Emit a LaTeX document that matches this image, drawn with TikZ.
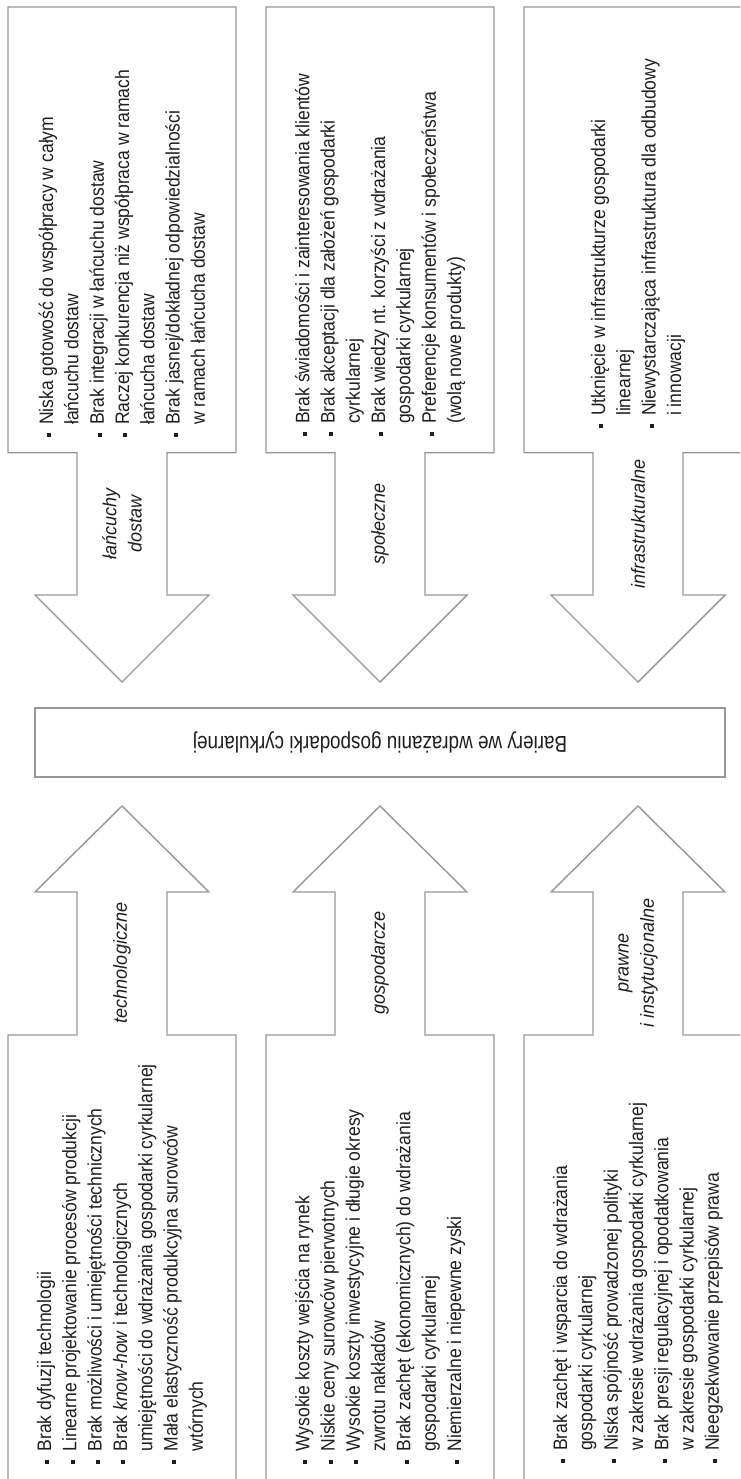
\documentclass[tikz,border=0pt]{standalone}
\usepackage{fontspec}
\setmainfont{Liberation Sans}[FakeStretch=0.9]
\newfontfamily\ctrfont{Liberation Sans}[FakeStretch=0.82]
\newfontfamily\lblfont{Liberation Sans}[FakeStretch=0.95]
\definecolor{lg}{RGB}{150,150,150}
\definecolor{txt}{RGB}{30,30,30}
\newcommand{\bl}{\makebox[12pt][l]{\rule[1.8pt]{4pt}{4pt}}}
\newcommand{\ind}{\hspace*{12pt}}
\newcommand{\myDownBox}[1]{%
  \draw[shp] (#1-114,7) -- (#1+114,7) -- (#1+114,452.7) -- (#1+45,452.7) -- (#1+45,595)
    -- (#1+87,595) -- (#1,682) -- (#1-87,595) -- (#1-45,595) -- (#1-45,452.7)
    -- (#1-114,452.7) -- cycle;}
\newcommand{\myUpBox}[1]{%
  \draw[shp] (#1-114,1490) -- (#1-114,1035) -- (#1-45,1035) -- (#1-45,892) -- (#1-87,892)
    -- (#1,806) -- (#1+87,892) -- (#1+45,892) -- (#1+45,1035) -- (#1+114,1035)
    -- (#1+114,1490);}
\begin{document}
\begin{tikzpicture}[x=1pt,y=-1pt,line join=miter,
  shp/.style={draw=lg,line width=1.4pt},
  body/.style={rotate=90,anchor=west,align=left,inner sep=0pt,text=txt,
    font=\fontsize{19.5}{25.3}\selectfont},
  lbl/.style={rotate=90,align=center,inner sep=0pt,text=txt,
    font=\lblfont\itshape\fontsize{19}{25.3}\selectfont}]
\useasboundingbox (0,0) rectangle (740,1479);
\clip (0,0) rectangle (740,1479);

% shapes
\myDownBox{122}
\myDownBox{380}
\myDownBox{638}
\myUpBox{122}
\myUpBox{380}
\myUpBox{638}

% centre box
\node[draw=lg,line width=1.4pt,minimum width=690pt,minimum height=69pt,inner sep=0pt,
  rotate=180,text=txt,font=\ctrfont\fontsize{23}{28}\selectfont] (center) at (380,742.5)
  {Bariery we wdrażaniu gospodarki cyrkularnej};

% arrow labels
\node[lbl] (l1) at (122,524) {łańcuchy\\dostaw};
\node[lbl] (l2) at (380,524) {społeczne};
\node[lbl] (l3) at (638,524) {infrastrukturalne};
\node[lbl] (l4) at (122,963) {technologiczne};
\node[lbl] (l5) at (380,963) {gospodarcze};
\node[lbl] (l6) at (638,963) {prawne\\i instytucjonalne};

% top boxes text
\node[body] (t1) at (122,437) {\bl Niska gotowość do współpracy w całym\\
\ind łańcuchu dostaw\\
\bl Brak integracji w łańcuchu dostaw\\
\bl Raczej konkurencja niż współpraca w ramach\\
\ind łańcucha dostaw\\
\bl Brak jasnej/dokładnej odpowiedzialności\\
\ind w ramach łańcucha dostaw};

\node[body] (t2) at (380,436) {\bl Brak świadomości i zainteresowania klientów\\
\bl Brak akceptacji dla założeń gospodarki\\
\ind cyrkularnej\\
\bl Brak wiedzy nt. korzyści z wdrażania\\
\ind gospodarki cyrkularnej\\
\bl Preferencje konsumentów i społeczeństwa\\
\ind (wolą nowe produkty)};

\node[body] (t3) at (638,428) {\bl Utknięcie w infrastrukturze gospodarki\\
\ind linearnej\\
\bl Niewystarczająca infrastruktura dla odbudowy\\
\ind i innowacji};

% bottom boxes text
\node[body] (b1) at (122,1463.7) {\bl Brak dyfuzji technologii\\
\bl Linearne projektowanie procesów produkcji\\
\bl Brak możliwości i umiejętności technicznych\\
\bl Brak \textit{know-how} i technologicznych\\
\ind umiejętności do wdrażania gospodarki cyrkularnej\\
\bl Mała elastyczność produkcyjna surowców\\
\ind wtórnych};

\node[body] (b2) at (380,1463.7) {\bl Wysokie koszty wejścia na rynek\\
\bl Niskie ceny surowców pierwotnych\\
\bl Wysokie koszty inwestycyjne i długie okresy\\
\ind zwrotu nakładów\\
\bl Brak zachęt (ekonomicznych) do wdrażania\\
\ind gospodarki cyrkularnej\\
\bl Niemierzalne i niepewne zyski};

\node[body] (b3) at (638,1463) {\bl Brak zachęt i wsparcia do wdrażania\\
\ind gospodarki cyrkularnej\\
\bl Niska spójność prowadzonej polityki\\
\ind w zakresie wdrażania gospodarki cyrkularnej\\
\bl Brak presji regulacyjnej i opodatkowania\\
\ind w zakresie gospodarki cyrkularnej\\
\bl Nieegzekwowanie przepisów prawa};
\end{tikzpicture}
\end{document}
